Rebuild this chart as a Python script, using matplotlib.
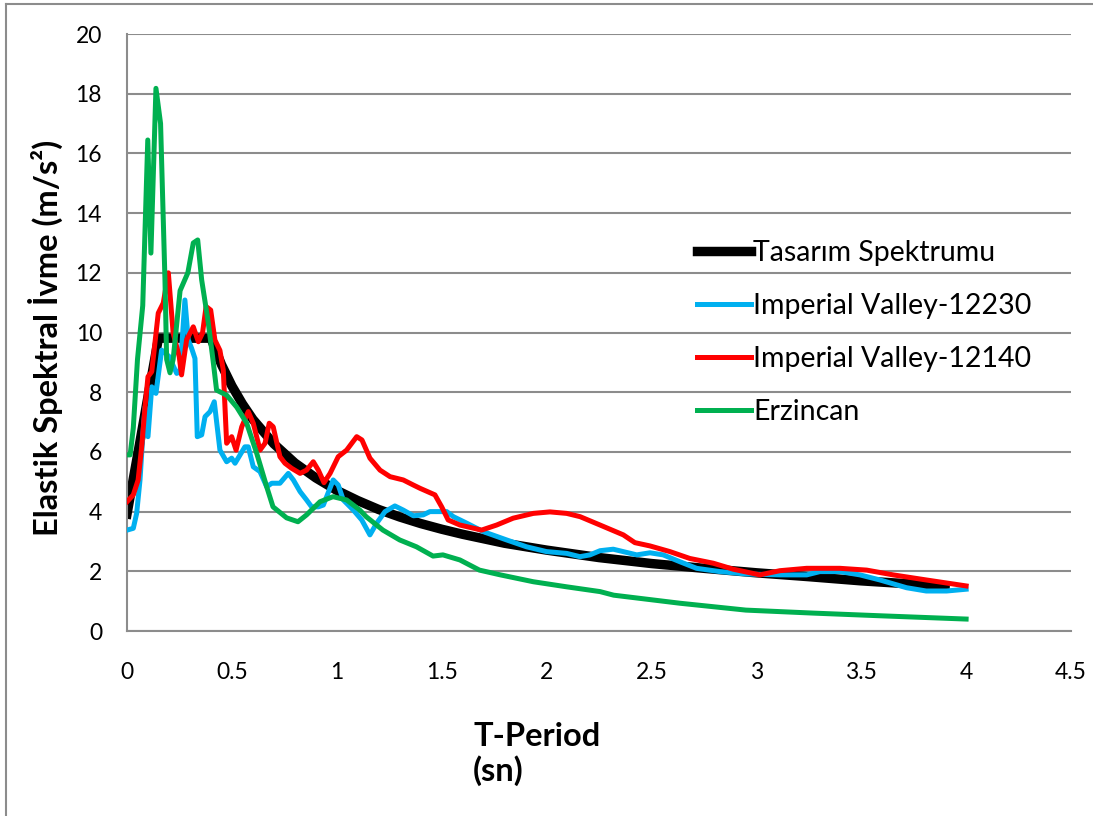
import matplotlib
matplotlib.use("Agg")
import matplotlib.pyplot as plt
from matplotlib.lines import Line2D

plt.rcParams['font.family'] = ['Lato', 'DejaVu Sans']

# ---- data ----
t_design = [0, 0.05, 0.1, 0.15, 0.2, 0.3, 0.4, 0.45, 0.5, 0.55, 0.6, 0.7, 0.8, 0.9, 1.0,
            1.1, 1.2, 1.3, 1.4, 1.5, 1.6, 1.8, 2.0, 2.25, 2.5, 2.75, 3.0, 3.25, 3.5, 3.75, 3.9]
v_design = [3.92, 5.88, 7.85, 9.81, 9.81, 9.81, 9.81, 8.93, 8.21, 7.61, 7.09, 6.27, 5.63, 5.13, 4.71,
            4.37, 4.07, 3.82, 3.60, 3.41, 3.24, 2.94, 2.71, 2.46, 2.26, 2.10, 1.95, 1.82, 1.68, 1.57, 1.50]

t_iv12230 = [0, 0.03, 0.046, 0.062, 0.075, 0.086, 0.1, 0.118, 0.138, 0.165, 0.2, 0.237, 0.253, 0.276,
             0.292, 0.308, 0.324, 0.335, 0.356, 0.372, 0.396, 0.416, 0.443, 0.475, 0.499, 0.515, 0.539,
             0.562, 0.578, 0.602, 0.634, 0.666, 0.69, 0.729, 0.769, 0.793, 0.825, 0.856, 0.88, 0.912,
             0.936, 0.983, 1.007, 1.031, 1.079, 1.119, 1.158, 1.19, 1.23, 1.277, 1.317, 1.365, 1.412,
             1.444, 1.524, 1.556, 1.62, 1.698, 1.81, 1.905, 2.0, 2.096, 2.159, 2.207, 2.255, 2.318,
             2.43, 2.493, 2.556, 2.636, 2.715, 2.826, 2.953, 3.112, 3.24, 3.303, 3.398, 3.494, 3.589,
             3.716, 3.81, 3.907, 4.0]
v_iv12230 = [3.38, 3.44, 3.94, 5.06, 6.51, 7.51, 6.51, 8.18, 7.96, 9.41, 9.2, 8.63, 8.69, 11.09,
             9.75, 9.47, 9.13, 6.51, 6.57, 7.18, 7.35, 7.68, 6.06, 5.67, 5.79, 5.62, 5.9,
             6.17, 6.17, 5.5, 5.34, 4.83, 4.95, 4.95, 5.28, 5.06, 4.67, 4.39, 4.16, 4.16,
             4.22, 5.06, 4.89, 4.39, 4.05, 3.72, 3.22, 3.61, 4.0, 4.19, 4.05, 3.86, 3.89,
             4.0, 4.0, 3.83, 3.61, 3.33, 3.05, 2.82, 2.66, 2.6, 2.49, 2.55, 2.69, 2.74,
             2.55, 2.62, 2.55, 2.32, 2.1, 1.99, 1.91, 1.88, 1.88, 1.99, 1.99, 1.88, 1.71,
             1.45, 1.34, 1.34, 1.4]

t_iv12140 = [0, 0.03, 0.053, 0.07, 0.086, 0.1, 0.118, 0.149, 0.173, 0.197, 0.22, 0.249, 0.26, 0.284,
             0.316, 0.34, 0.36, 0.377, 0.399, 0.419, 0.443, 0.459, 0.475, 0.499, 0.52, 0.547, 0.578,
             0.602, 0.634, 0.658, 0.678, 0.697, 0.729, 0.753, 0.785, 0.825, 0.856, 0.888, 0.912,
             0.939, 0.968, 1.007, 1.047, 1.095, 1.12, 1.158, 1.206, 1.254, 1.317, 1.365, 1.397,
             1.468, 1.50, 1.531, 1.587, 1.69, 1.762, 1.841, 1.937, 2.016, 2.096, 2.16, 2.255,
             2.366, 2.421, 2.493, 2.588, 2.683, 2.795, 2.89, 3.017, 3.112, 3.24, 3.398, 3.526,
             3.652, 3.81, 4.0]
v_iv12140 = [4.33, 4.56, 5.06, 6.17, 7.51, 8.52, 8.69, 10.65, 10.99, 12.0, 9.98, 9.19, 8.58, 9.75,
             10.19, 9.69, 9.98, 10.87, 10.75, 9.75, 9.4, 8.74, 6.29, 6.51, 6.06, 6.84, 7.35,
             6.96, 6.06, 6.29, 6.96, 6.84, 5.84, 5.62, 5.45, 5.28, 5.39, 5.67, 5.39,
             4.97, 5.28, 5.84, 6.06, 6.51, 6.4, 5.79, 5.39, 5.17, 5.06, 4.89, 4.78,
             4.56, 4.16, 3.72, 3.55, 3.38, 3.55, 3.78, 3.94, 3.99, 3.94, 3.83, 3.55,
             3.22, 2.96, 2.85, 2.66, 2.43, 2.27, 2.07, 1.88, 2.02, 2.1, 2.1, 2.04,
             1.88, 1.71, 1.51]

t_erz = [0, 0.015, 0.03, 0.05, 0.075, 0.099, 0.114, 0.138, 0.16, 0.181, 0.189, 0.205, 0.22, 0.253,
         0.29, 0.316, 0.337, 0.356, 0.386, 0.41, 0.427, 0.475, 0.523, 0.57, 0.618, 0.666, 0.696,
         0.761, 0.815, 0.856, 0.92, 0.982, 1.047, 1.11, 1.14, 1.22, 1.30, 1.38, 1.459, 1.506,
         1.587, 1.68, 1.78, 1.937, 2.096, 2.255, 2.32, 2.636, 2.95, 3.27, 3.59, 4.0]
v_erz = [5.9, 5.9, 6.8, 9.1, 10.9, 16.45, 12.66, 18.18, 17.0, 11.76, 9.1, 8.65, 9.1, 11.4,
         12.0, 13.0, 13.1, 11.76, 10.4, 9.08, 8.07, 7.9, 7.5, 6.97, 5.96, 4.83, 4.16,
         3.79, 3.66, 3.89, 4.33, 4.5, 4.39, 4.05, 3.83, 3.38, 3.05, 2.82, 2.51, 2.55,
         2.38, 2.04, 1.88, 1.65, 1.48, 1.32, 1.2, 0.93, 0.7, 0.6, 0.51, 0.4]

labels = ["Tasarım Spektrumu", "Imperial Valley-12230", "Imperial Valley-12140", "Erzincan"]
colors = ["#000000", "#00B0F0", "#FF0000", "#00B050"]
x_ticks = [0, 0.5, 1, 1.5, 2, 2.5, 3, 3.5, 4, 4.5]
y_ticks = [0, 2, 4, 6, 8, 10, 12, 14, 16, 18, 20]

W, H = 1093, 816
fig = plt.figure(figsize=(W / 100, H / 100), dpi=100)
ax = fig.add_axes([127 / W, 1 - 631 / H, (1071 - 127) / W, (631 - 34) / H])

LW = 3.6
LWB = 6.8
grid_c = "#8c8c8c"
ax.plot(t_iv12230, v_iv12230, color=colors[1], lw=LW, solid_joinstyle='round', zorder=3)
ax.plot(t_iv12140, v_iv12140, color=colors[2], lw=LW, solid_joinstyle='round', zorder=4)
ax.plot(t_erz, v_erz, color=colors[3], lw=LW, solid_joinstyle='round', zorder=5)
ax.plot(t_design, v_design, color=colors[0], lw=LWB, solid_joinstyle='round', zorder=2)

ax.set_xlim(0, 4.5)
ax.set_ylim(0, 20)
ax.set_xticks(x_ticks)
ax.set_xticklabels([f"{v:g}" for v in x_ticks])
ax.set_yticks(y_ticks)
ax.set_yticklabels([str(v) for v in y_ticks])
ax.tick_params(axis='both', length=0, labelsize=16.5)
ax.tick_params(axis='x', pad=22)
ax.tick_params(axis='y', pad=18)
ax.yaxis.grid(True, color=grid_c, lw=1.5)
ax.set_axisbelow(True)
for s in ['top', 'right']:
    ax.spines[s].set_visible(False)
for s in ['left', 'bottom']:
    ax.spines[s].set_color(grid_c)
    ax.spines[s].set_linewidth(1.5)

handles = [Line2D([], [], color=colors[0], lw=LWB),
           Line2D([], [], color=colors[1], lw=LW),
           Line2D([], [], color=colors[2], lw=LW),
           Line2D([], [], color=colors[3], lw=LW)]
leg = fig.legend(handles, labels, loc='upper left', bbox_to_anchor=(697 / W, 1 - 240 / H),
                 bbox_transform=fig.transFigure, frameon=False, fontsize=20.5,
                 handlelength=1.9, handletextpad=0.08, labelspacing=0.95,
                 borderpad=0, borderaxespad=0)

fig.text(45 / W, 1 - 338 / H, "Elastik Spektral İvme (m/s²)", rotation=90, fontsize=23.5,
         fontweight='bold', ha='center', va='center')
fig.text(473 / W, 1 - 754 / H, "T-Period\n(sn)", fontsize=23.5, fontweight='bold',
         ha='left', va='center', linespacing=1.15)

# outer frame
fig.add_artist(Line2D([6 / W, 6 / W], [0, 1 - 4 / H], color="#8c8c8c", lw=1.5,
                      transform=fig.transFigure))
fig.add_artist(Line2D([6 / W, 1], [1 - 4 / H, 1 - 4 / H], color="#8c8c8c", lw=1.5,
                      transform=fig.transFigure))

fig.savefig("out.png", dpi=100)
